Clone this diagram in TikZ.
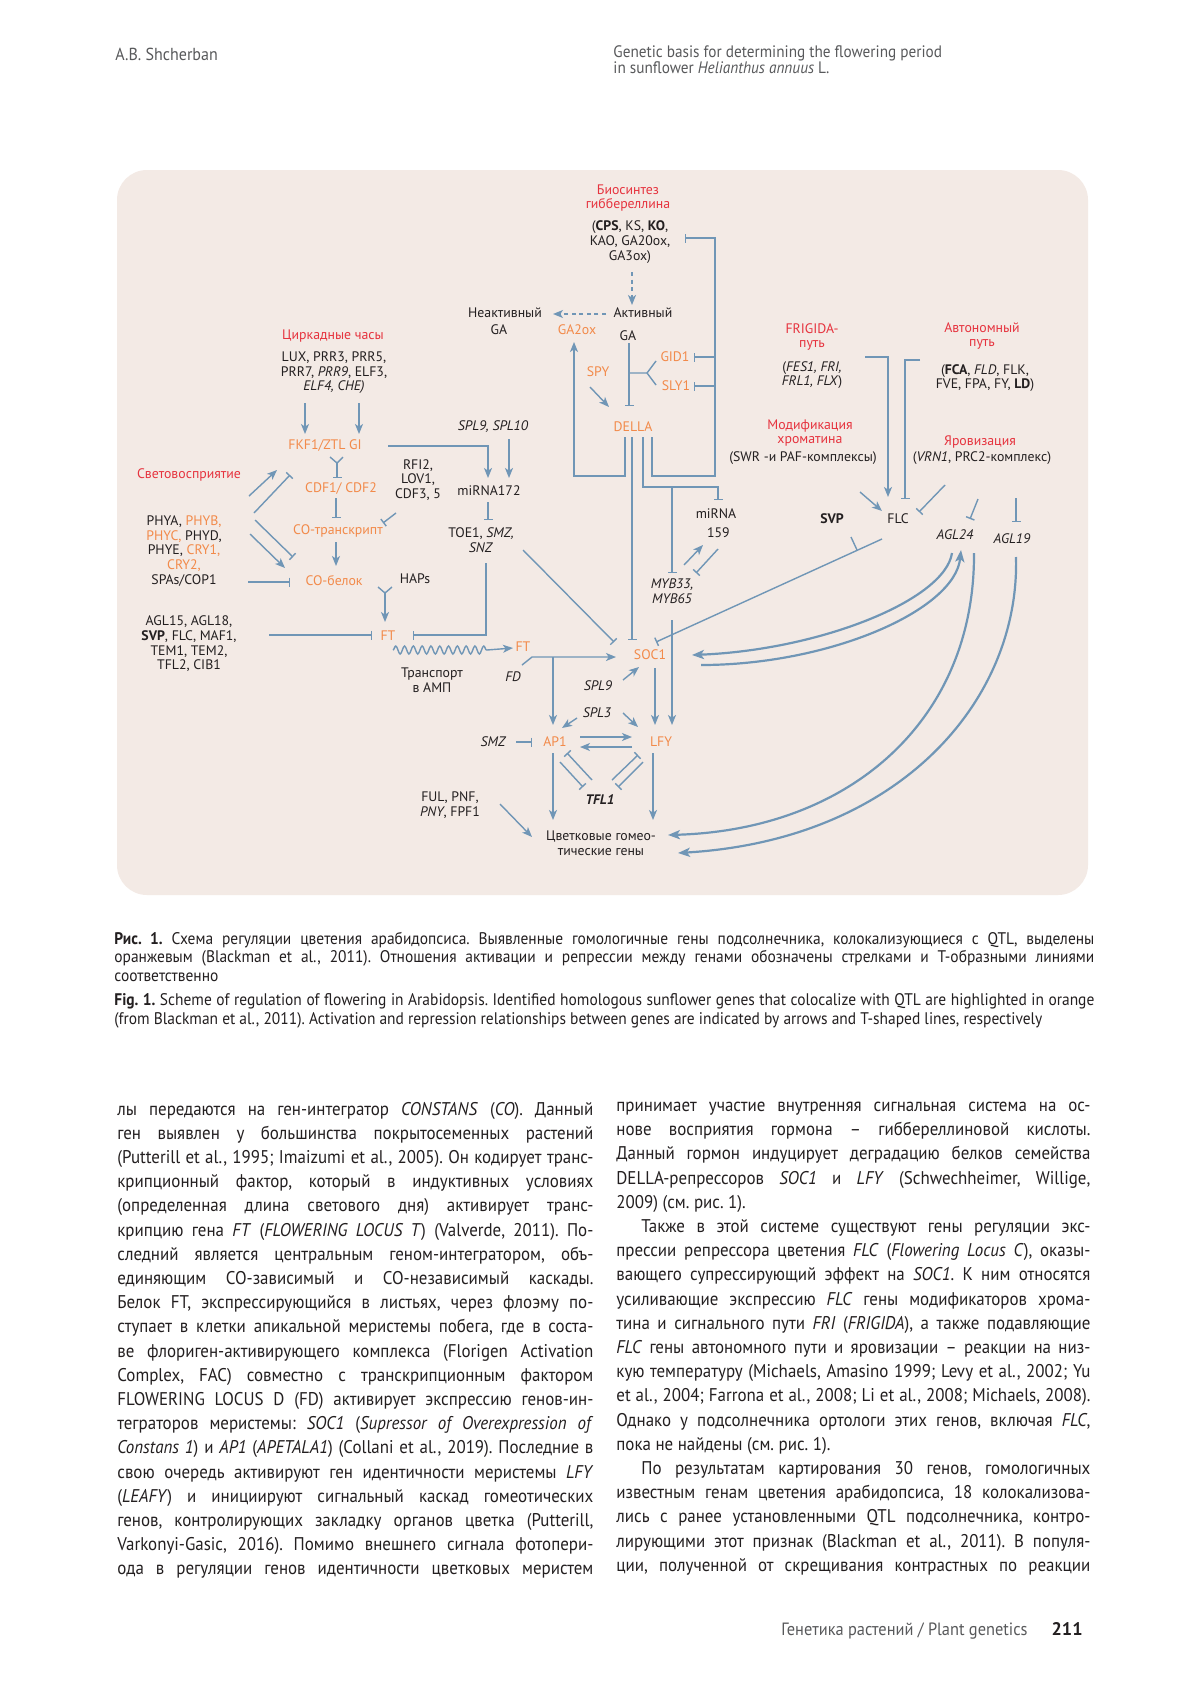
\documentclass[tikz,border=0pt]{standalone}
\usepackage{fontspec}
\usepackage{graphicx}
\setmainfont{PT Sans}[FakeStretch=0.92]
\newfontfamily\diagfont{PT Sans}
\usetikzlibrary{arrows.meta,calc,decorations.pathmorphing}

\definecolor{panelbg}{HTML}{F3EAE5}
\definecolor{linkblue}{HTML}{7096B6}
\definecolor{hlorange}{HTML}{F28A4A}
\definecolor{titlered}{HTML}{E6333E}
\definecolor{ink}{HTML}{231F20}
\definecolor{greyhead}{HTML}{58595B}

% justified and last lines of the page text
\newsavebox\lnbox
\newcommand\justln[2][238pt]{\sbox\lnbox{#2}%
  \ifdim\wd\lnbox>#1\relax\hbox{\resizebox{#1}{\height}{\usebox\lnbox}}%
  \else\hbox to #1{#2}\fi}
\newcommand\lastln[2][238pt]{\hbox to #1{#2\hfil}}
\newcommand\txtbody{\fontsize{9.2}{12.1}\selectfont\color{ink}}
\newcommand\txtcap{\fontsize{8.4}{9.25}\selectfont\color{ink}}
\frenchspacing

\begin{document}
\begin{tikzpicture}[x=0.5pt,y=-0.5pt,
  lbl/.style={font=\diagfont\fontsize{6.9}{7.3}\selectfont, text=ink, inner sep=0pt, align=center},
  gene/.style={lbl, text=hlorange},
  ttl/.style={lbl, text=titlered},
  conn/.style={draw=linkblue, line width=0.7pt},
  act/.style={conn, -{Stealth[length=5pt,width=4pt,inset=1.3pt]}},
  rep/.style={conn, -{Bar[width=4.5pt]}},
  dashact/.style={act, dash pattern=on 2pt off 1.8pt},
  curvearr/.style={draw=linkblue, line width=1.1pt, -{Stealth[length=6pt,width=4.6pt,inset=1.5pt]}},
  pagetxt/.style={inner sep=0pt, anchor=base west}]
\fill[white] (0,0) rectangle (1200,1697);
\useasboundingbox (0,0) rectangle (1200,1697);

% page header
\node[pagetxt, font=\fontsize{8.7}{10}\selectfont, text=greyhead] (author) at (115,60) {A.B. Shcherban};
\node[pagetxt, font=\fontsize{8.3}{10}\selectfont, text=greyhead] (title1) at (613,57) {Genetic basis for determining the flowering period};
\node[pagetxt, font=\fontsize{8.3}{10}\selectfont, text=greyhead] (title2) at (613,73) {in sunflower \textit{Helianthus annuus} L.};

% panel
\fill[panelbg, rounded corners=15pt] (117,170) rectangle (1088,895);

% gibberellin block
\node[ttl] (gabiot) at (628,198) {Биосинтез\\гиббереллина};
\node[lbl] (gabio) at (630,242) {(\textbf{CPS}, KS, \textbf{KO},\\KAO, GA20ox,\\GA3ox)};
\node[lbl] (act) at (643,313) {Активный};
\node[lbl] (actga) at (628,336) {GA};
\node[lbl] (inact) at (505,313) {Неактивный};
\node[lbl] (inactga) at (499,330) {GA};
\node[gene] (ga2ox) at (577,330) {GA2ox};
\node[gene] (spy) at (598,372) {SPY};
\node[gene] (gid1) at (675,357) {GID1};
\node[gene] (sly1) at (676,386) {SLY1};
\node[gene] (della) at (633,427) {DELLA};

% circadian clock and light
\node[ttl] (circt) at (333,336) {Циркадные часы};
\node[lbl] (circ) at (334,373) {LUX, PRR3, PRR5,\\PRR7, \textit{PRR9}, ELF3,\\\textit{ELF4, CHE)}};
\node[gene] (fkf) at (325,446) {FKF1/ZTL GI};
\node[lbl, font=\diagfont\itshape\fontsize{6.9}{7.3}\selectfont] (spl) at (493,427) {SPL9, SPL10};
\node[lbl] (rfi) at (418,480) {RFI2,\\LOV1,\\CDF3, 5};
\node[gene] (cdf) at (341,489) {CDF1/ CDF2};
\node[lbl] (mir172) at (489,491) {miRNA172};
\node[ttl] (lightt) at (189,475) {Световосприятие};
\node[lbl] (phy) at (184,551) {PHYA, \textcolor{hlorange}{PHYB,}\\\textcolor{hlorange}{PHYC,} PHYD,\\PHYE, \textcolor{hlorange}{CRY1,}\\\textcolor{hlorange}{CRY2,}\\SPAs/COP1};
\node[gene] (cot) at (338,531) {CO-транскрипт};
\node[lbl] (toe) at (481,540) {TOE1, \textit{SMZ,}\\\textit{SNZ}};
\node[gene] (cob) at (334,581) {CO-белок};
\node[lbl] (haps) at (415,579) {HAPs};
\node[lbl] (agl15) at (189,644) {AGL15, AGL18,\\\textbf{SVP}, FLC, MAF1,\\TEM1, TEM2,\\TFL2, CIB1};
\node[gene] (ft) at (388,636) {FT};
\node[gene] (ft2) at (523,647) {FT};
\node[lbl] (transp) at (432,680) {Транспорт\\в АМП};
\node[lbl, font=\diagfont\itshape\fontsize{6.9}{7.3}\selectfont] (fd) at (513,677) {FD};

% meristem integrators
\node[gene] (soc1) at (650,655) {SOC1};
\node[lbl, font=\diagfont\itshape\fontsize{6.9}{7.3}\selectfont] (spl9) at (598,686) {SPL9};
\node[lbl, font=\diagfont\itshape\fontsize{6.9}{7.3}\selectfont] (spl3) at (597,713) {SPL3};
\node[lbl, font=\diagfont\itshape\fontsize{6.9}{7.3}\selectfont] (smz) at (493,742) {SMZ};
\node[gene] (ap1) at (555,742) {AP1};
\node[gene] (lfy) at (661,742) {LFY};
\node[lbl, font=\diagfont\bfseries\itshape\fontsize{6.9}{7.3}\selectfont] (tfl) at (600,800) {TFL1};
\node[lbl] (ful) at (450,805) {FUL, PNF,\\\textit{PNY}, FPF1};
\node[lbl] (homeo) at (601,843) {Цветковые гомео-\\тические гены};
\node[lbl, font=\diagfont\itshape\fontsize{6.9}{7.3}\selectfont] (myb) at (672,591) {MYB33,\\MYB65};
\node[lbl] (mir159) at (716,523) {miRNA\\[2.2pt]\,\,159};

% FLC pathways
\node[ttl] (frigt) at (812,337) {FRIGIDA-\\путь};
\node[lbl] (frig) at (812,375) {(\textit{FES1, FRI,}\\\textit{FRL1, FLX})};
\node[ttl] (autot) at (982,336) {Автономный\\путь};
\node[lbl] (auto) at (985,378) {(\textbf{FCA}, \textit{FLD}, FLK,\\FVE, FPA, FY, \textbf{LD})};
\node[ttl] (chromt) at (810,433) {Модификация\\хроматина};
\node[lbl] (chrom) at (803,458) {(SWR -и PAF-комплексы)};
\node[ttl] (vernt) at (980,442) {Яровизация};
\node[lbl] (vern) at (982,458) {(\textit{VRN1}, PRC2-комплекс)};
\node[lbl, font=\diagfont\bfseries\fontsize{6.9}{7.3}\selectfont] (svp) at (832,519) {SVP};
\node[lbl] (flc) at (898,519) {FLC};
\node[lbl, font=\diagfont\itshape\fontsize{6.9}{7.3}\selectfont] (agl24) at (955,535) {AGL24};
\node[lbl, font=\diagfont\itshape\fontsize{6.9}{7.3}\selectfont] (agl19) at (1012,539) {AGL19};

% gibberellin links
\draw[dashact] ($(gabio)+(2,30)$) -- ($(act)+(-11,-8)$);
\draw[dashact] ($(act)+(-37,1)$) -- ($(inact)+(48,1)$);
\draw[rep] ($(della)+(19,10)$) -- ++(0,39) -- ++(63,0) |- ($(gabio)+(55,-4)$);
\draw[rep] ($(gid1)+(40,0)$) -- ($(gid1)+(19,0)$);
\draw[rep] ($(sly1)+(39,0)$) -- ($(sly1)+(18,0)$);
\draw[act] ($(della)+(-8,10)$) -- ++(0,39) -| ($(ga2ox)+(-3,12)$);
\draw[rep] ($(actga)+(1,7)$) -- ($(della)+(-4,-21)$);
\draw[conn] ($(gid1)+(-19,4)$) -- ++(-9,12) -- ++(-18,0);
\draw[conn] ($(sly1)+(-20,-1)$) -- ++(-9,-12);
\draw[act] ($(spy)+(-8,15)$) -- ($(della)+(-24,-20)$);
\draw[rep] ($(della)+(-1,10)$) -- ($(soc1)+(-18,-15)$);
\draw[rep] ($(della)+(10,10)$) -- ++(0,50) -| ($(mir159)+(2,-23)$);
\draw[rep] ($(myb)+(0,-104)$) -- ($(myb)+(0,-18)$);
\draw[act] ($(myb)+(0,29)$) -- ($(lfy)+(11,-17)$);
\draw[act] ($(myb)+(12,-26)$) -- ($(mir159)+(-13,22)$);
\draw[rep] ($(mir159)+(2,26)$) -- ($(myb)+(24,-18)$);

% clock and light links
\draw[act] ($(circ)+(-29,30)$) -- ($(fkf)+(-20,-12)$);
\draw[act] ($(circ)+(25,30)$) -- ($(fkf)+(34,-12)$);
\draw[act] ($(fkf)+(63,0)$) -| ($(mir172)+(-1,-13)$);
\draw[act] ($(spl)+(16,12)$) -- ($(mir172)+(20,-13)$);
\draw[conn] ($(fkf)+(5,11)$) -- ++(7,6) -- ++(6,-6);
\draw[rep] ($(fkf)+(12,17)$) -- ($(cdf)+(-4,-11)$);
\draw[rep] ($(cdf)+(-5,9)$) -- ($(cot)+(-2,-13)$);
\draw[rep] ($(rfi)+(-22,33)$) -- ($(cot)+(45,-8)$);
\draw[act] ($(cot)+(-2,11)$) -- ($(cob)+(2,-15)$);
\draw[act] ($(phy)+(65,-55)$) -- ($(fkf)+(-48,24)$);
\draw[rep] ($(phy)+(70,-38)$) -- ($(cdf)+(-51,-14)$);
\draw[act] ($(phy)+(66,-17)$) -- ($(cob)+(-49,-13)$);
\draw[rep] ($(phy)+(71,-31)$) -- ($(cob)+(-41,-24)$);
\draw[rep] ($(phy)+(64,31)$) -- ($(cob)+(-44,1)$);
\draw[rep] ($(mir172)+(-1,11)$) -- ($(toe)+(7,-20)$);
\draw[conn] ($(cob)+(44,6)$) -- ++(7,6) -- ($(haps)+(-23,8)$);
\draw[act] ($(cob)+(51,12)$) -- ($(ft)+(-3,-14)$);
\draw[rep] ($(agl15)+(80,-9)$) -- ($(ft)+(-16,-1)$);
\draw[rep] ($(toe)+(5,23)$) |- ($(ft)+(25,-1)$);
\draw[rep] ($(toe)+(42,10)$) -- ($(soc1)+(-36,-13)$);
\draw[conn, decorate, decoration={snake, amplitude=2pt, segment length=4.4pt}] ($(ft)+(5,14)$) -- ++(94,0);
\draw[act] ($(ft)+(99,14)$) -- ($(ft2)+(-10,1)$);
\draw[act] ($(fd)+(9,-12)$) -- ++(10,-8) -- ($(soc1)+(-34,2)$);
\draw[act] ($(ap1)+(-2,-85)$) -- ($(ap1)+(-2,-17)$);

% integrator links
\draw[act] ($(spl9)+(25,-6)$) -- ($(soc1)+(-11,12)$);
\draw[act] ($(spl3)+(-20,5)$) -- ($(ap1)+(7,-14)$);
\draw[act] ($(spl3)+(26,0)$) -- ($(lfy)+(-23,-15)$);
\draw[act] ($(soc1)+(5,13)$) -- ($(lfy)+(-6,-17)$);
\draw[act] ($(ap1)+(25,-5)$) -- ($(lfy)+(-29,-5)$);
\draw[act] ($(lfy)+(-29,5)$) -- ($(ap1)+(25,5)$);
\draw[rep] ($(smz)+(23,0)$) -- ($(ap1)+(-23,0)$);
\draw[act] ($(ap1)+(-2,11)$) -- ($(homeo)+(-48,-23)$);
\draw[act] ($(lfy)+(-8,11)$) -- ($(homeo)+(52,-23)$);
\draw[rep] ($(ap1)+(5,20)$) -- ($(tfl)+(-17,-13)$);
\draw[rep] ($(tfl)+(-8,-20)$) -- ($(ap1)+(12,11)$);
\draw[rep] ($(lfy)+(-18,20)$) -- ($(tfl)+(18,-13)$);
\draw[rep] ($(tfl)+(12,-20)$) -- ($(lfy)+(-23,13)$);
\draw[act] ($(ful)+(50,-1)$) -- ($(homeo)+(-69,-6)$);

% FLC links
\draw[act] ($(frig)+(53,-18)$) -| ($(flc)+(-10,-22)$);
\draw[rep] ($(auto)+(-65,-18)$) -| ($(flc)+(7,-20)$);
\draw[act] ($(chrom)+(57,34)$) -- ($(flc)+(-16,-8)$);
\draw[rep] ($(vern)+(-37,27)$) -- ($(flc)+(21,-7)$);
\draw[rep] ($(vern)+(-4,41)$) -- ($(agl24)+(15,-16)$);
\draw[rep] ($(vern)+(34,40)$) -- ($(agl19)+(4,-17)$);
\draw[rep] ($(flc)+(-16,20)$) -- ($(soc1)+(6,-13)$);
\draw[conn] ($(svp)+(19,18)$) -- ++(6,13);
\draw[curvearr] ($(agl24)+(-3,18)$) .. controls +(-7,47) and +(128,-5) .. ($(soc1)+(42,0)$);
\draw[curvearr] ($(soc1)+(51,10)$) .. controls +(129,0) and +(-6,60) .. ($(agl24)+(6,15)$);
\draw[curvearr] ($(agl24)+(19,18)$) .. controls +(1,167) and +(182,-5) .. ($(homeo)+(67,-8)$);
\draw[curvearr] ($(agl19)+(4,18)$) .. controls +(4,143) and +(222,-13) .. ($(homeo)+(77,10)$);

% caption
\node[pagetxt] (capru) at (114,932) {\parbox[t]{490pt}{\txtcap
\justln[490pt]{\textbf{Рис. 1.} Схема регуляции цветения арабидопсиса. Выявленные гомологичные гены подсолнечника, колокализующиеся с QTL, выделены}
\justln[490pt]{оранжевым (Blackman et al., 2011). Отношения активации и репрессии между генами обозначены стрелками и Т-образными линиями}
\lastln[490pt]{соответственно}}};
\node[pagetxt] (capen) at (114,994) {\parbox[t]{490pt}{\txtcap
\justln[490pt]{\textbf{Fig. 1.} Scheme of regulation of flowering in Arabidopsis. Identified homologous sunflower genes that colocalize with QTL are highlighted in orange}
\lastln[490pt]{(from Blackman et al., 2011). Activation and repression relationships between genes are indicated by arrows and T-shaped lines, respectively}}};

% body text, left column
\node[pagetxt] (colleft) at (117,1102) {\parbox[t]{238pt}{\txtbody
\justln{лы передаются на ген-интегратор \textit{CONSTANS} (\textit{CO}). Данный}
\justln{ген выявлен у большинства покрытосеменных растений}
\justln{(Putterill et al., 1995; Imaizumi et al., 2005). Он кодирует транс-}
\justln{крипционный фактор, который в индуктивных условиях}
\justln{(определенная длина светового дня) активирует транс-}
\justln{крипцию гена \textit{FT} (\textit{FLOWERING LOCUS T}) (Valverde, 2011). По-}
\justln{следний является центральным геном-интегратором, объ-}
\justln{единяющим СО-зависимый и СО-независимый каскады.}
\justln{Белок FT, экспрессирующийся в листьях, через флоэму по-}
\justln{ступает в клетки апикальной меристемы побега, где в соста-}
\justln{ве флориген-активирующего комплекса (Florigen Activation}
\justln{Complex, FAC) совместно с транскрипционным фактором}
\justln{FLOWERING LOCUS D (FD) активирует экспрессию генов-ин-}
\justln{теграторов меристемы: \textit{SOC1} (\textit{Supressor of Overexpression of}}
\justln{\textit{Constans 1}) и \textit{AP1} (\textit{APETALA1}) (Collani et al., 2019). Последние в}
\justln{свою очередь активируют ген идентичности меристемы \textit{LFY}}
\justln{(\textit{LEAFY}) и инициируют сигнальный каскад гомеотических}
\justln{генов, контролирующих закладку органов цветка (Putterill,}
\justln{Varkonyi-Gasic, 2016). Помимо внешнего сигнала фотопери-}
\justln{ода в регуляции генов идентичности цветковых меристем}}};

% body text, right column
\node[pagetxt] (colright) at (616,1102) {\parbox[t]{237pt}{\txtbody
\justln[237pt]{принимает участие внутренняя сигнальная система на ос-}
\justln[237pt]{нове восприятия гормона – гиббереллиновой кислоты.}
\justln[237pt]{Данный гормон индуцирует деградацию белков семейства}
\justln[237pt]{DELLA-репрессоров \textit{SOC1} и \textit{LFY} (Schwechheimer, Willige,}
\lastln[237pt]{2009) (см. рис. 1).}
\justln[237pt]{\hspace*{12.5pt}Также в этой системе существуют гены регуляции экс-}
\justln[237pt]{прессии репрессора цветения \textit{FLC} (\textit{Flowering Locus C}), оказы-}
\justln[237pt]{вающего супрессирующий эффект на \textit{SOC1}. К ним относятся}
\justln[237pt]{усиливающие экспрессию \textit{FLC} гены модификаторов хрома-}
\justln[237pt]{тина и сигнального пути \textit{FRI} (\textit{FRIGIDA}), а также подавляющие}
\justln[237pt]{\textit{FLC} гены автономного пути и яровизации – реакции на низ-}
\justln[237pt]{кую температуру (Michaels, Amasino 1999; Levy et al., 2002; Yu}
\justln[237pt]{et al., 2004; Farrona et al., 2008; Li et al., 2008; Michaels, 2008).}
\justln[237pt]{Однако у подсолнечника ортологи этих генов, включая \textit{FLC},}
\lastln[237pt]{пока не найдены (см. рис. 1).}
\justln[237pt]{\hspace*{12.5pt}По результатам картирования 30 генов, гомологичных}
\justln[237pt]{известным генам цветения арабидопсиса, 18 колокализова-}
\justln[237pt]{лись с ранее установленными QTL подсолнечника, контро-}
\justln[237pt]{лирующими этот признак (Blackman et al., 2011). В популя-}
\justln[237pt]{ции, полученной от скрещивания контрастных по реакции}}};

% footer
\node[inner sep=0pt, anchor=base east, font=\fontsize{8.9}{10}\selectfont, text=greyhead] (journal) at (1028,1635) {Генетика растений / Plant genetics};
\node[inner sep=0pt, anchor=base east, font=\diagfont\bfseries\fontsize{9.1}{11}\selectfont, text=ink] (pageno) at (1083,1635) {211};
\end{tikzpicture}
\end{document}
